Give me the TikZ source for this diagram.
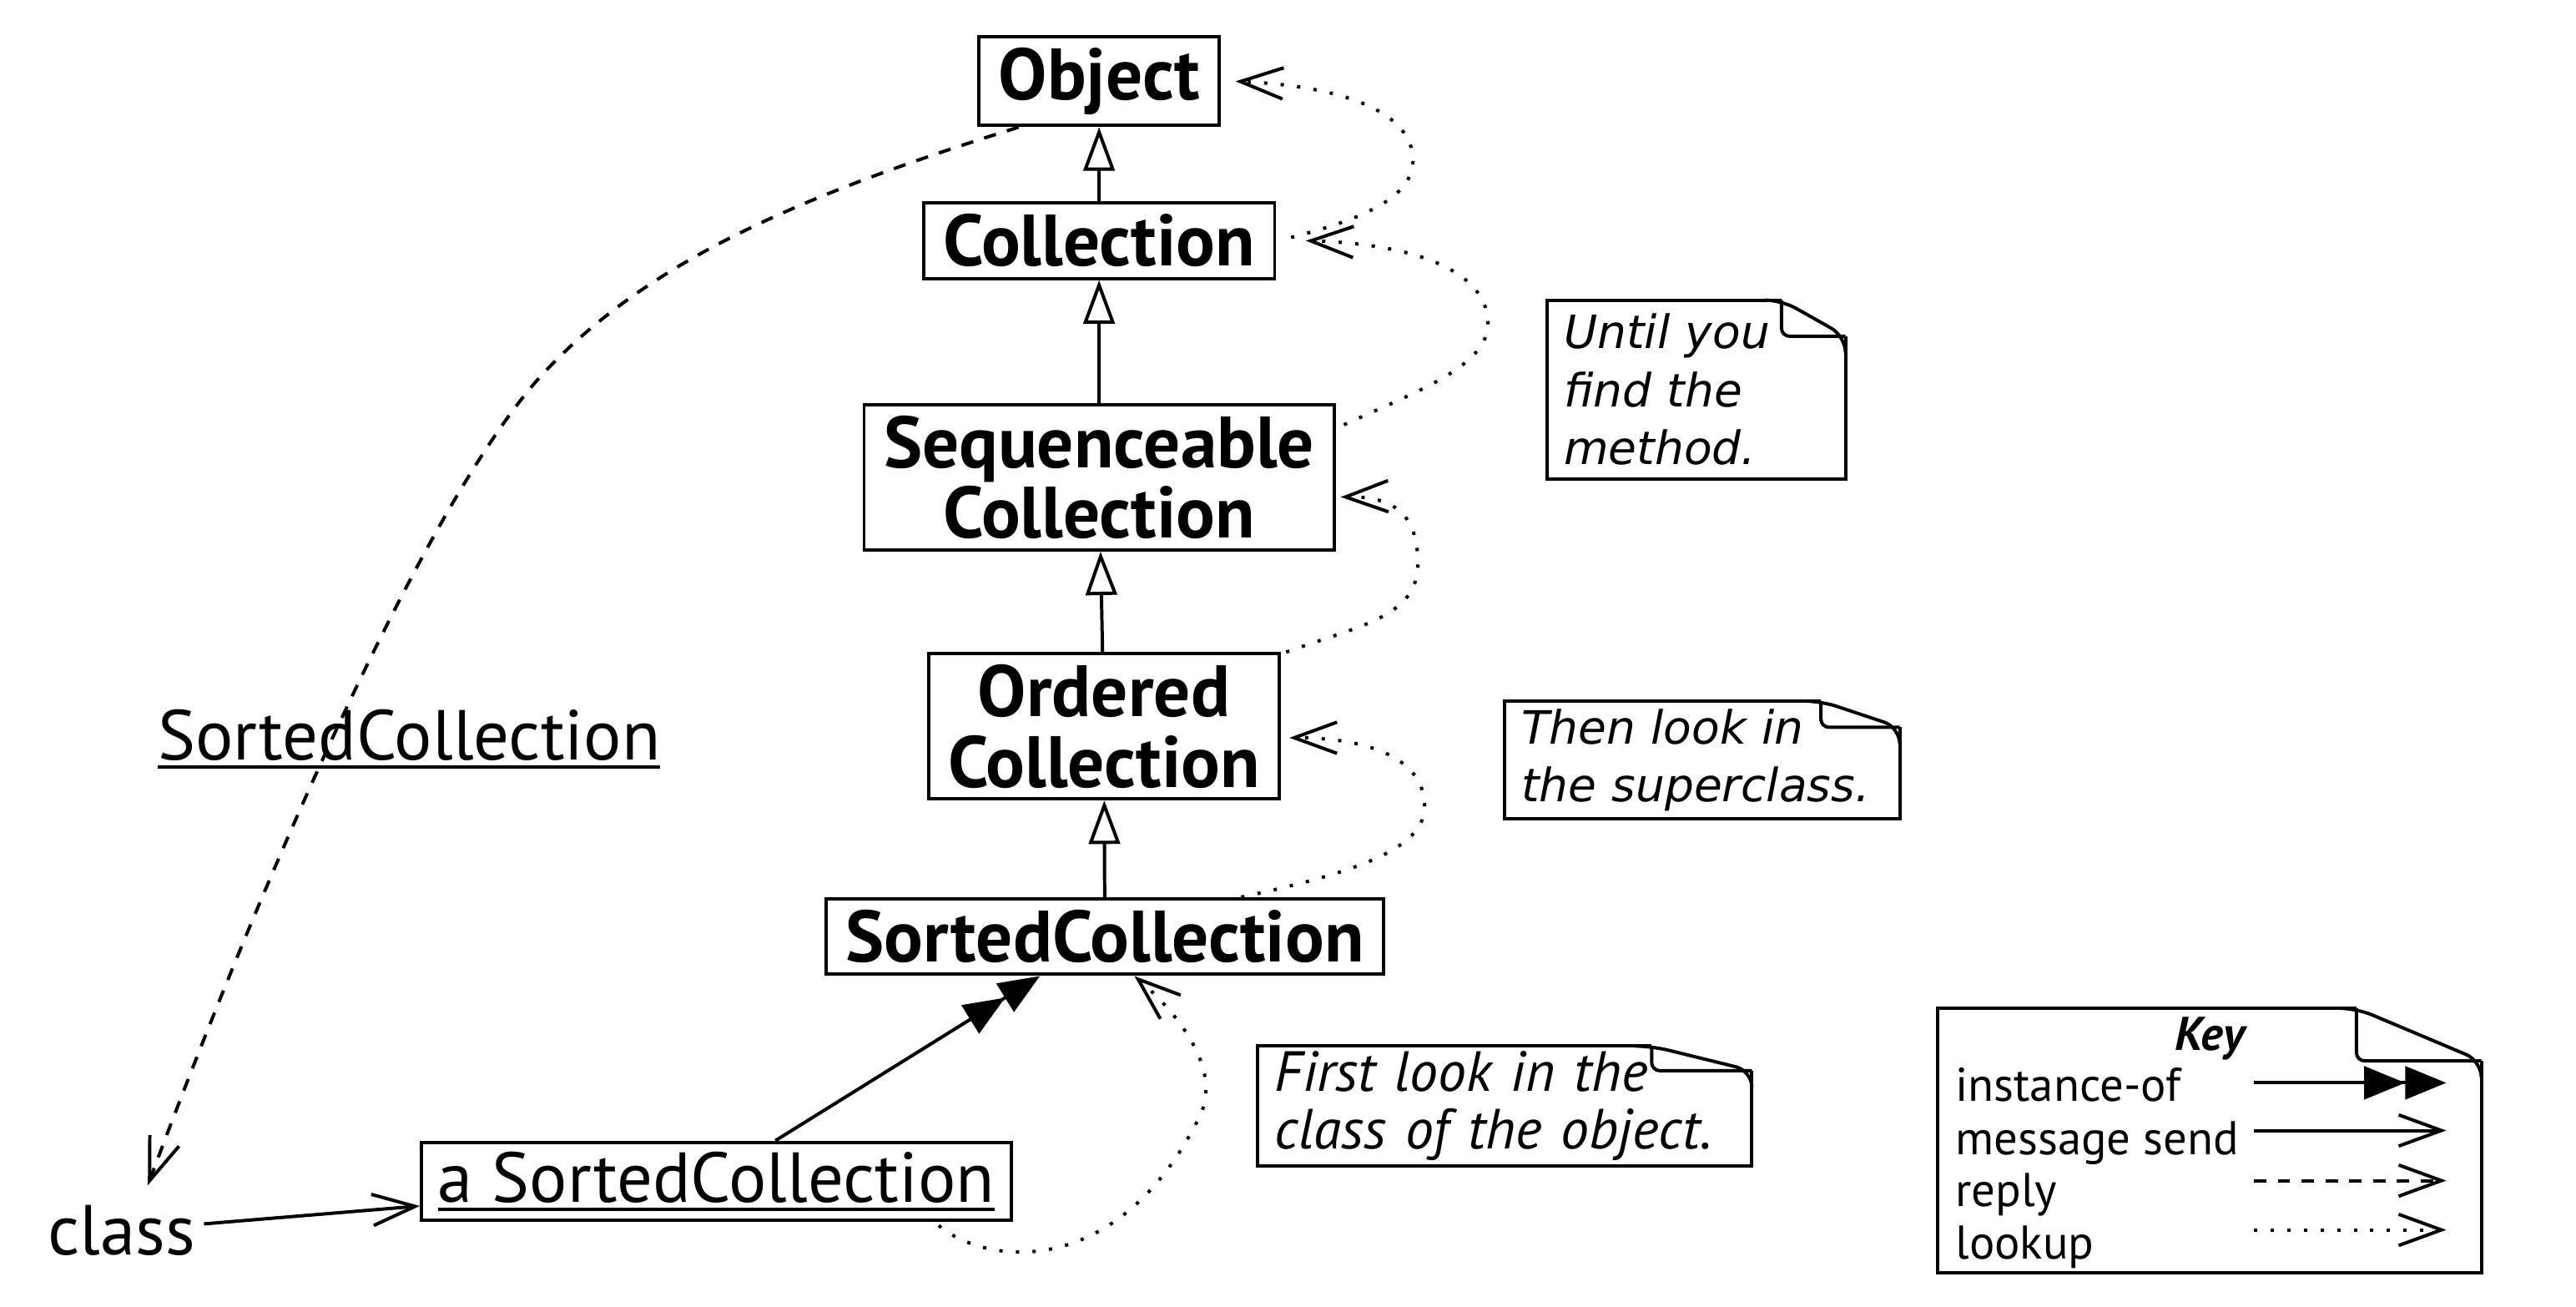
\documentclass[tikz,border=0pt]{standalone}
\usepackage{fontspec}
\setmainfont{PT Sans}
\newfontfamily\notefont{DejaVu Sans}
\usetikzlibrary{arrows.meta}
\tikzset{
  uml class/.style={
    rectangle,
    draw,
    line width=1.15pt,
    align=center,
    inner xsep=2.4mm,
    inner ysep=1.3mm,
    minimum height=9.2mm,
    font=\fontsize{25.2}{24.5}\selectfont\bfseries,
  },
  uml object/.style={
    rectangle,
    draw,
    line width=1.15pt,
    inner xsep=2mm,
    minimum height=9.2mm,
    font=\fontsize{24.5}{24}\selectfont,
  },
  uml label/.style={inner sep=1mm, font=\fontsize{24.5}{24}\selectfont},
  uml note/.style={
    rectangle,
    inner xsep=2mm,
    inner ysep=0pt,
    align=left,
    font=\notefont\itshape\fontsize{15.9}{20}\selectfont,
  },
  note edge/.style={line width=1.15pt},
  key text/.style={inner sep=0pt, anchor=base west, font=\fontsize{16.4}{18}\selectfont},
  inherit/.style={-{Triangle[open,length=5.3mm,width=3.8mm]}, line width=1.15pt},
  instance of/.style={-{Triangle[length=5mm,width=4mm,sep=0pt]Triangle[length=5mm,width=4mm]}, line width=1.15pt},
  send/.style={-{Straight Barb[length=5.2mm,width=3.8mm]}, line width=1.15pt},
  reply/.style={send, dash pattern=on 1.5mm off 1.4mm},
  lookup/.style={send, dash pattern=on 1.15pt off 4.6pt},
}
% thicker rule under instance and class names
\newcommand{\thickul}[1]{\setbox0=\hbox{#1}\rlap{\rule[-3pt]{\wd0}{1.2pt}}\box0}
% note outline with a curled top right corner: node, fold width, fold depth
\newcommand{\dogear}[3]{%
  \draw[note edge] ([xshift=-#2]#1.north east) -- (#1.north west) -- (#1.south west)
    -- (#1.south east) -- ([yshift=-#3]#1.north east);
  \draw[note edge, rounded corners=2mm] ([xshift=-#2-2mm]#1.north east) -- ([xshift=-#2]#1.north east)
    -- ([yshift=-#3]#1.north east) -- ([yshift=-#3-2mm]#1.north east);
  \draw[note edge, rounded corners=1mm] ([xshift=-#2]#1.north east) -- ([xshift=-#2,yshift=-#3]#1.north east)
    -- ([yshift=-#3]#1.north east);
}

\begin{document}
\begin{tikzpicture}[x=0.2mm, y=-0.2mm]
  \useasboundingbox (0,0) rectangle (1568,795);

  % class hierarchy
  \node[uml class] (object) at (669,49.5) {Object};
  \node[uml class] (coll) at (669,146.5) {Collection};
  \node[uml class] (seqcoll) at (669,290.5) {Sequenceable\\Collection};
  \node[uml class] (ordcoll) at (672,442) {Ordered\\Collection};
  \node[uml class] (sortcoll) at (672.5,570) {SortedCollection};

  \node[uml object] (asorted) at (436,719) {\thickul{a SortedCollection}};
  \node[uml label] (classlbl) at (74,749) {class};
  \node[uml label] (sclabel) at (249,450) {\thickul{SortedCollection}};

  % notes
  \node[uml note, text width=32.2mm, minimum height=21.6mm] (untilnote) at (1032.5,237) {Until you\\find the\\method.};
  \dogear{untilnote}{7.8mm}{4.4mm}
  \node[uml note, text width=44mm, minimum height=14.2mm] (thennote) at (1036,462.5) {Then look in\\the superclass.};
  \dogear{thennote}{9.6mm}{3.2mm}
  \node[uml note, font=\itshape\fontsize{19.6}{20}\selectfont, text width=56mm, minimum height=14.4mm] (firstnote) at (916,673) {First look in the\\class of the object.};
  \dogear{firstnote}{12.2mm}{3mm}

  \draw[inherit] (coll) -- (object);
  \draw[inherit] (seqcoll) -- (coll);
  \draw[inherit] (ordcoll) -- (seqcoll);
  \draw[inherit] (sortcoll) -- (ordcoll);

  \draw[instance of] ([xshift=7.2mm]asorted.north) -- ([xshift=-7.9mm]sortcoll.south);
  \draw[send] (classlbl) -- (asorted);
  \draw[reply] ([xshift=-9.8mm]object.south) .. controls (490,118) and (395,158) .. (330,228)
    .. controls (255,310) and (150,560) .. ([xshift=3.2mm,yshift=1.4mm]classlbl.north);

  % method lookup, up the chain
  \draw[lookup] ([xshift=-9mm,yshift=-0.4mm]asorted.south east) .. controls (600,770) and (680,780) .. (730,680)
    .. controls (745,650) and (715,615) .. ([xshift=3.6mm]sortcoll.south);
  \draw[lookup] ([xshift=16.6mm]sortcoll.north) .. controls (830,530) and (870,515) .. (867,488)
    .. controls (865,460) and (830,449) .. ([xshift=1mm,yshift=-1.4mm]ordcoll.east);
  \draw[lookup] ([xshift=0.6mm]ordcoll.north east) .. controls (830,380) and (865,375) .. (863,340)
    .. controls (862,310) and (845,302) .. ([xshift=0.6mm,yshift=-2.4mm]seqcoll.east);
  \draw[lookup] ([xshift=1mm,yshift=6.4mm]seqcoll.east) .. controls (870,235) and (912,220) .. (905,190)
    .. controls (898,160) and (850,148) .. ([xshift=3.6mm]coll.east);
  \draw[lookup] ([xshift=1.8mm,yshift=0.4mm]coll.east) .. controls (835,132) and (862,118) .. (860,95)
    .. controls (857,65) and (810,52) .. ([xshift=1.8mm]object.east);

  % key
  \node[minimum width=66mm, minimum height=32mm] (key) at (1345,694) {};
  \dogear{key}{15.2mm}{6.4mm}
  \node[key text, anchor=base, font=\fontsize{16.4}{18}\selectfont\bfseries\itshape] (keytitle) at (1345,639) {Key};
  \node[key text] (kinst) at (1190,670) {instance-of};
  \node[key text] (kmsg) at (1190,702.5) {message send};
  \node[key text] (krep) at (1190,734) {reply};
  \node[key text] (klook) at (1190,766) {lookup};
  \coordinate (k1a) at (1372,659);
  \coordinate (k1b) at (1489,659);
  \coordinate (k2a) at (1372,688);
  \coordinate (k2b) at (1489,688);
  \coordinate (k3a) at (1372,718.5);
  \coordinate (k3b) at (1489,718.5);
  \coordinate (k4a) at (1372,748.5);
  \coordinate (k4b) at (1489,748.5);
  \draw[instance of] (k1a) -- (k1b);
  \draw[send] (k2a) -- (k2b);
  \draw[reply] (k3a) -- (k3b);
  \draw[lookup] (k4a) -- (k4b);
\end{tikzpicture}
\end{document}
